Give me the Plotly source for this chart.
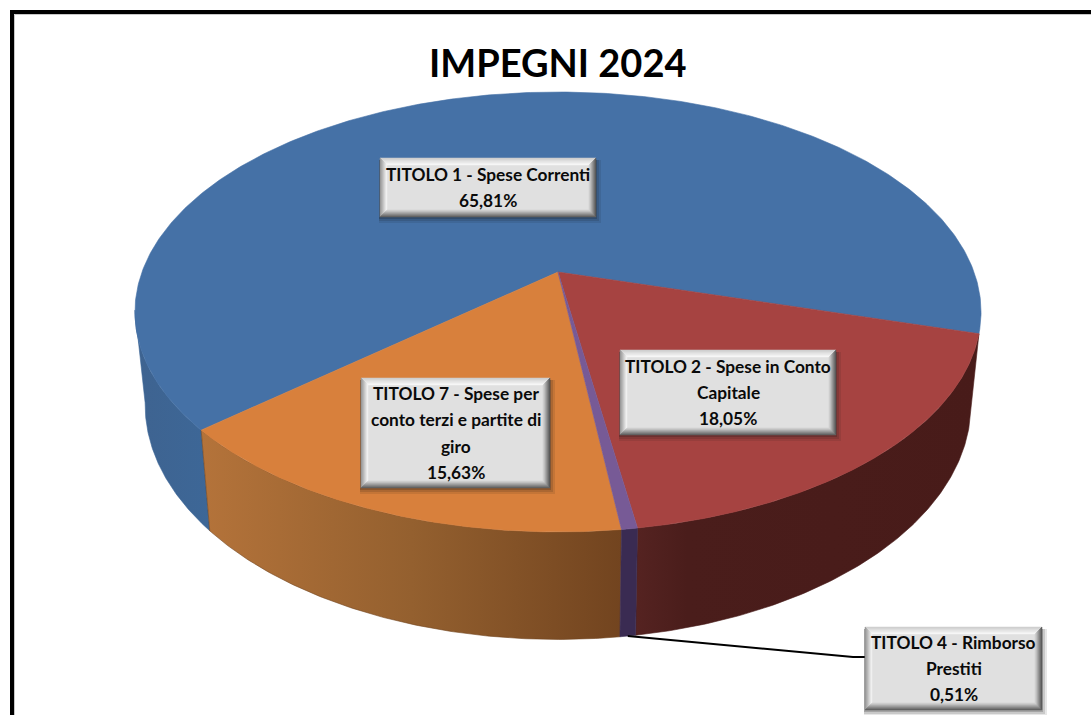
import numpy as np
import plotly.graph_objects as go

# ---- data ----
categories = ["TITOLO 1 - Spese Correnti", "TITOLO 2 - Spese in Conto Capitale",
              "TITOLO 4 - Rimborso Prestiti", "TITOLO 7 - Spese per conto terzi e partite di giro"]
values = [65.81, 18.05, 0.51, 15.63]
value_labels = ["65,81%", "18,05%", "0,51%", "15,63%"]
title_text = "IMPEGNI 2024"
top_colors = ["#4571A6", "#A64341", "#775A96", "#D8803C"]
side_scales = [
    [[0, "#3E6390"], [1, "#3D6797"]],
    [[0, "#552321"], [0.15, "#4A1D1B"], [1, "#481B19"]],
    [[0, "#3A2B52"], [1, "#3A2B52"]],
    [[0, "#B4733A"], [0.5, "#94602F"], [1, "#72441F"]],
]
label_lines = [
    ["TITOLO 1 - Spese Correnti"],
    ["TITOLO 2 - Spese in Conto", "Capitale"],
    ["TITOLO 4 - Rimborso", "Prestiti"],
    ["TITOLO 7 - Spese per", "conto terzi e partite di", "giro"],
]
label_boxes = [(380, 158, 596, 217), (620, 350, 836, 435), (865, 627, 1042, 710), (361, 378, 550, 488)]

# ---- perspective geometry of the drawn pie ----
START = 16.0          # degrees clockwise from the right-hand horizontal
K = 0.1818
TOP = dict(cx=558, cy=272, A=416, B=212.7)
BOT = dict(cx=558, cy=362, A=406, B=227)
FONT = "Lato"
LINE_PITCH = 26.3


def project(theta_deg, plane, r=1.0):
    t = np.radians(theta_deg)
    X, Y = r * np.cos(t), r * np.sin(t)
    w = 1 - K * Y
    return plane["cx"] + plane["A"] * X / w, plane["cy"] + plane["B"] * Y / w


angles = {}
order = [1, 2, 3, 0]
a = START
for i in order:
    angles[i] = (a, a + values[i] * 3.6)
    a += values[i] * 3.6

fig = go.Figure()


def polygon(xs, ys, **kw):
    fig.add_trace(go.Scatter(x=xs, y=ys, mode="lines", fill="toself", hoverinfo="skip",
                             showlegend=False, line=dict(width=0.6, color=kw.pop("edge")), **kw))


# sides (only the front half that is visible)
VISIBLE_END = 170.0
for i in [0, 3, 1, 2]:
    a0, a1 = angles[i]
    lo, hi = a0, min(a1, VISIBLE_END)
    th = np.linspace(lo, hi, 120)
    xt, yt = project(th, TOP)
    xb, yb = project(th[::-1], BOT)
    polygon(np.r_[xt, xb, xt[0]], np.r_[yt, yb, yt[0]],
            edge=side_scales[i][-1][1],
            fillgradient=dict(type="horizontal", colorscale=side_scales[i]))

# top faces
for i in [0, 1, 3, 2]:
    a0, a1 = angles[i]
    th = np.linspace(a0, a1, 400)
    xt, yt = project(th, TOP)
    polygon(np.r_[TOP["cx"], xt, TOP["cx"]], np.r_[TOP["cy"], yt, TOP["cy"]],
            edge=top_colors[i], fillcolor=top_colors[i])

# leader line for the small slice
lx, ly = project(np.mean(angles[2]), BOT)
fig.add_trace(go.Scatter(x=[lx, 853, label_boxes[2][0]], y=[ly, 657, 657], mode="lines",
                         line=dict(color="#000000", width=2), hoverinfo="skip", showlegend=False))

shapes = []
# frame
shapes.append(dict(type="path", path="M 12 720 L 12 12 L 1096 12", xref="x", yref="y",
                   line=dict(color="#000000", width=4)))
shapes.append(dict(type="path", path="M 14.5 720 L 14.5 14.5 L 1096 14.5", xref="x", yref="y",
                   line=dict(color="#C8C8C8", width=1)))


def mix(c0, c1, f):
    return "#%02X%02X%02X" % tuple(int(round(p + (q - p) * f)) for p, q in zip(c0, c1))


BEVEL = 7
for (x0, y0, x1, y1) in label_boxes:
    for s, alpha in [(7, 0.10), (5, 0.14), (3, 0.20)]:
        shapes.append(dict(type="rect", x0=x0 - 1, y0=y0 + 2, x1=x1 + s - 2, y1=y1 + s - 1, xref="x", yref="y",
                           fillcolor=f"rgba(20,20,20,{alpha})", line=dict(width=0)))
    shapes.append(dict(type="rect", x0=x0, y0=y0, x1=x1, y1=y1, xref="x", yref="y",
                       fillcolor="#E0E0E0", line=dict(width=0)))
    for n in range(BEVEL):
        f = n / (BEVEL - 1)
        o, p = n, n + 1
        top = mix((205, 205, 205), (246, 246, 246), f)
        left = mix((150, 150, 150), (240, 240, 240), f)
        right = mix((85, 85, 85), (205, 205, 205), f)
        bottom = mix((95, 95, 95), (205, 205, 205), f)
        strips = [
            (top, f"M {x0+o} {y0+o} L {x1-o} {y0+o} L {x1-p} {y0+p} L {x0+p} {y0+p} Z"),
            (left, f"M {x0+o} {y0+o} L {x0+p} {y0+p} L {x0+p} {y1-p} L {x0+o} {y1-o} Z"),
            (right, f"M {x1-o} {y0+o} L {x1-p} {y0+p} L {x1-p} {y1-p} L {x1-o} {y1-o} Z"),
            (bottom, f"M {x0+o} {y1-o} L {x1-o} {y1-o} L {x1-p} {y1-p} L {x0+p} {y1-p} Z"),
        ]
        for col, path in strips:
            shapes.append(dict(type="path", path=path, xref="x", yref="y", fillcolor=col,
                               line=dict(width=0.5, color=col)))

annotations = [dict(x=558, y=62, text=f"<b>{title_text}</b>", showarrow=False, xref="x", yref="y",
                    font=dict(family=FONT, size=38, color="#000000"))]
for i, lines in enumerate(label_lines):
    x0, y0, x1, y1 = label_boxes[i]
    all_lines = lines + [value_labels[i]]
    mid = (y0 + y1) / 2
    for j, line in enumerate(all_lines):
        annotations.append(dict(x=(x0 + x1) / 2, y=mid + (j - (len(all_lines) - 1) / 2) * LINE_PITCH,
                                text=f"<b>{line}</b>", showarrow=False, xref="x", yref="y", align="center",
                                font=dict(family=FONT, size=17.3, color="#0A0A0A")))

fig.update_layout(
    width=1091, height=715, margin=dict(l=0, r=0, t=0, b=0),
    paper_bgcolor="#FFFFFF", plot_bgcolor="#FFFFFF", showlegend=False,
    xaxis=dict(range=[0, 1091], visible=False, fixedrange=True),
    yaxis=dict(range=[715, 0], visible=False, fixedrange=True),
    shapes=shapes, annotations=annotations,
)
fig.write_html("out.html", config={"displayModeBar": False},
               post_script="document.body.style.margin='0';document.body.style.overflow='hidden';")
